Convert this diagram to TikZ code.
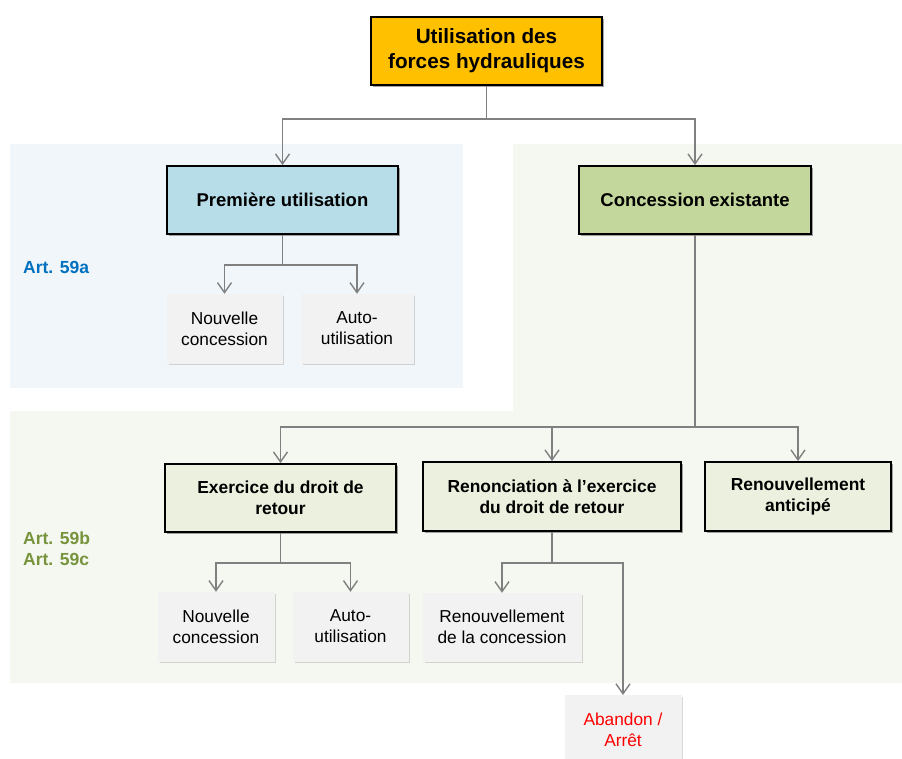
\documentclass[tikz,border=0pt]{standalone}
\usepackage{fontspec}
\setmainfont{Liberation Sans}
\usetikzlibrary{arrows.meta,shadows}
\definecolor{topfill}{HTML}{FFC000}
\definecolor{premfill}{HTML}{B7DDE8}
\definecolor{concfill}{HTML}{C3D69B}
\definecolor{lvlfill}{HTML}{EBF1DE}
\definecolor{leaffill}{HTML}{F2F2F2}
\definecolor{bgblue}{HTML}{F1F6FA}
\definecolor{bggreen}{HTML}{F5F8F1}
\definecolor{artblue}{HTML}{0070C0}
\definecolor{artgreen}{HTML}{77933C}
\definecolor{conngray}{HTML}{808080}
\begin{document}
\begin{tikzpicture}[x=1pt,y=-1pt,
  mainbox/.style={draw=black,line width=1.8pt,align=center,inner sep=0pt,
    drop shadow={shadow xshift=1.5pt,shadow yshift=-1.5pt,opacity=0.35,fill=black}},
  leafbox/.style={fill=leaffill,draw=white!90!gray,line width=0.4pt,align=center,inner sep=0pt,
    font=\fontsize{17.3}{21}\selectfont,
    drop shadow={shadow xshift=1.5pt,shadow yshift=-1.5pt,opacity=0.3,fill=gray}},
  lvlbox/.style={mainbox,fill=lvlfill,font=\bfseries\fontsize{17.4}{20.5}\selectfont},
  conn/.style={draw=conngray,line width=1.6pt,-{Straight Barb[length=10pt,width=14pt,line width=1.4pt]}},
  artlbl/.style={anchor=base west,inner sep=0pt,font=\bfseries\fontsize{17.5}{21}\selectfont}
  ]
\useasboundingbox (0,0) rectangle (902,758);
\fill[white] (0,0) rectangle (902,758);
% background regions
\fill[bgblue] (10,144) rectangle (463,388);
\fill[bggreen] (513,144) -- (902,144) -- (902,683) -- (10,683) -- (10,411) -- (513,411) -- cycle;

% nodes
\node[mainbox,fill=topfill,minimum width=231pt,minimum height=68pt,
  font=\bfseries\fontsize{20.7}{25}\selectfont] (top) at (486.5,51) {Utilisation des\\forces hydrauliques};
\node[mainbox,fill=premfill,minimum width=231pt,minimum height=68pt,
  font=\bfseries\fontsize{18.5}{22}\selectfont] (prem) at (282.5,200) {Première utilisation};
\node[mainbox,fill=concfill,minimum width=232pt,minimum height=68pt,
  font=\bfseries\fontsize{18.5}{22}\selectfont] (conc) at (695,200) {Concession\hspace{-1pt} existante};

\node[leafbox,minimum width=115pt,minimum height=69pt] (nc1) at (224.5,328.5) {Nouvelle\\concession};
\node[leafbox,minimum width=112pt,minimum height=69pt] (au1) at (357,328.5) {Auto-\\utilisation};

\node[lvlbox,minimum width=231pt,minimum height=68pt] (exer) at (280.5,498) {Exercice du droit de\\retour};
\node[lvlbox,minimum width=258pt,minimum height=69pt] (reno) at (552,496.5) {Renonciation à l’exercice\\du droit de retour};
\node[lvlbox,minimum width=186pt,minimum height=69pt] (anti) at (798,496.5) {Renouvellement\\anticipé};

\node[leafbox,minimum width=116pt,minimum height=69pt] (nc2) at (216,626.5) {Nouvelle\\concession};
\node[leafbox,minimum width=115pt,minimum height=69pt] (au2) at (350.5,626.5) {Auto-\\utilisation};
\node[leafbox,minimum width=158pt,minimum height=68pt] (ren) at (502,627) {Renouvellement\\de la concession};
\node[leafbox,minimum width=116pt,minimum height=70pt,text=red,anchor=north] (aban) at (623,695) {Abandon /\\Arrêt};

% labels
\node[artlbl,text=artblue] (a59a) at (23,273) {Art. 59a};
\node[artlbl,text=artgreen] (a59b) at (23,544) {Art. 59b};
\node[artlbl,text=artgreen] (a59c) at (23,565) {Art. 59c};

% connectors
\draw[conn] (top.south) -- ++(0,33) -| (prem.north);
\draw[conn] (top.south) -- ++(0,33) -| (conc.north);
\draw[conn] (prem.south) -- ++(0,30) -| (nc1.north);
\draw[conn] (prem.south) -- ++(0,30) -| (au1.north);
\draw[conn] (conc.south) -- ++(0,192) -| (exer.north);
\draw[conn] (conc.south) -- ++(0,192) -| (reno.north);
\draw[conn] (conc.south) -- ++(0,192) -| (anti.north);
\draw[conn] (exer.south) -- ++(0,30) -| (nc2.north);
\draw[conn] (exer.south) -- ++(0,30) -| (au2.north);
\draw[conn] (reno.south) -- ++(0,31) -| (ren.north);
\draw[conn] (reno.south) -- ++(0,31) -| (aban.north);
\end{tikzpicture}
\end{document}
